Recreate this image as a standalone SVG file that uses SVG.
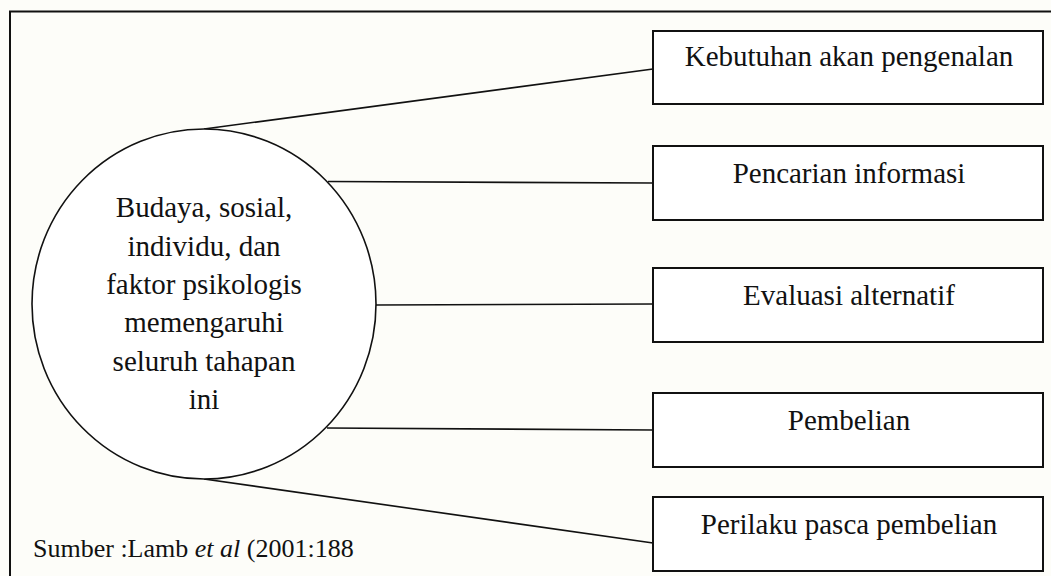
<svg xmlns="http://www.w3.org/2000/svg" width="1051" height="576" viewBox="0 0 1051 576">
<style>
.t{font-family:"Liberation Serif","Times New Roman",serif;font-size:29px;fill:#111;text-anchor:middle}
.box{fill:#fff;stroke:#111;stroke-width:2}
.con line{stroke:#111;stroke-width:1.6}
</style>
<rect x="0" y="0" width="1051" height="576" fill="#fdfdf9"/>
<rect id="frame" x="10" y="11.5" width="1100" height="600" fill="none" stroke="#111" stroke-width="2"/>
<g id="connectors" class="con">
<line x1="204" y1="129" x2="653" y2="69"/>
<line x1="328" y1="181.5" x2="653" y2="183"/>
<line x1="376" y1="305" x2="653" y2="304"/>
<line x1="327" y1="428" x2="653" y2="430"/>
<line x1="204" y1="479" x2="653" y2="543"/>
</g>
<g id="center">
<ellipse cx="204" cy="304" rx="172" ry="175" fill="#fff" stroke="#111" stroke-width="1.6"/>
<text class="t" x="204"><tspan x="204" y="217">Budaya, sosial,</tspan><tspan x="204" y="255.5">individu, dan</tspan><tspan x="204" y="294">faktor psikologis</tspan><tspan x="204" y="332">memengaruhi</tspan><tspan x="204" y="370.5">seluruh tahapan</tspan><tspan x="204" y="409">ini</tspan></text>
</g>
<g id="step1"><rect class="box" x="653" y="31" width="390" height="73"/><text class="t" x="849" y="66">Kebutuhan akan pengenalan</text></g>
<g id="step2"><rect class="box" x="653" y="146" width="390" height="74"/><text class="t" x="849" y="183">Pencarian informasi</text></g>
<g id="step3"><rect class="box" x="653" y="268" width="390" height="74"/><text class="t" x="849" y="305">Evaluasi alternatif</text></g>
<g id="step4"><rect class="box" x="653" y="393" width="390" height="74"/><text class="t" x="849" y="430">Pembelian</text></g>
<g id="step5"><rect class="box" x="653" y="497" width="390" height="74"/><text class="t" x="849" y="534">Perilaku pasca pembelian</text></g>
<g id="source"><text class="t" x="33" y="557" style="text-anchor:start;font-size:26px">Sumber :Lamb <tspan font-style="italic">et al</tspan> (2001:188</text></g>
</svg>
